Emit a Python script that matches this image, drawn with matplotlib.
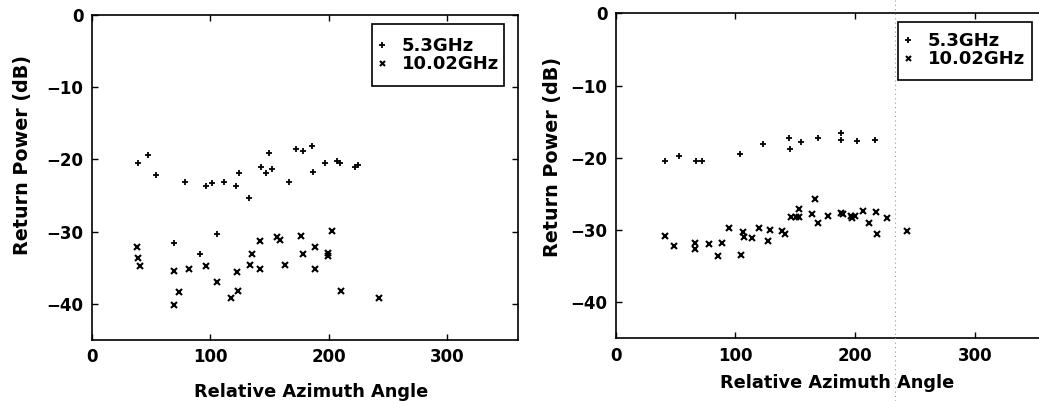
import matplotlib
matplotlib.use("Agg")
import matplotlib.pyplot as plt
from matplotlib.lines import Line2D
from matplotlib.patches import Rectangle

# left panel data
left_53_angle = [39.2, 47.6, 54.6, 78.4, 96.6, 101.6, 111.4, 121.8, 124.6, 133.0,
                 142.8, 147.0, 149.8, 152.6, 166.6, 172.2, 178.7, 185.7, 187.1, 196.9,
                 206.7, 210.0, 222.7, 224.9, 69.2, 91.6, 105.9]
left_53_power = [-20.5, -19.35, -22.2, -23.1, -23.7, -23.3, -23.1, -23.7, -21.9, -25.35,
                 -21.1, -21.9, -19.1, -21.3, -23.1, -18.6, -18.8, -18.2, -21.7, -20.5,
                 -20.2, -20.5, -21.1, -20.8, -31.6, -33.1, -30.3]
left_10_angle = [38.6, 39.2, 40.6, 69.2, 81.8, 96.9, 105.6, 122.7, 133.6, 135.2,
                 142.3, 142.3, 156.8, 159.1, 163.3, 176.4, 178.4, 188.2, 188.2, 199.9,
                 199.9, 203.3, 69.2, 73.6, 117.6, 123.5, 210.6, 242.3]
left_10_power = [-32.1, -33.7, -34.8, -35.4, -35.2, -34.7, -37.0, -35.6, -34.6, -33.1,
                 -31.3, -35.2, -30.8, -31.2, -34.6, -30.6, -33.1, -32.1, -35.2, -33.0,
                 -33.4, -29.9, -40.1, -38.4, -39.2, -38.2, -38.2, -39.2]

# right panel data
right_53_angle = [41.2, 52.9, 67.1, 71.8, 103.8, 122.8, 145.0, 145.6, 154.8, 169.3,
                  188.0, 188.2, 201.6, 216.6]
right_53_power = [-20.4, -19.8, -20.4, -20.4, -19.5, -18.1, -17.3, -18.8, -17.8, -17.2,
                  -16.6, -17.6, -17.7, -17.5]
right_10_angle = [41.2, 49.0, 66.3, 66.3, 78.2, 85.7, 88.6, 94.9, 104.4, 106.6,
                  107.4, 113.6, 120.0, 127.5, 128.9, 139.2, 141.4, 146.2, 150.6, 153.1,
                  153.0, 163.7, 166.5, 168.8, 177.6, 188.2, 189.6, 196.3, 197.7, 200.0,
                  206.9, 211.6, 217.2, 218.6, 226.9, 243.3]
right_10_power = [-30.8, -32.2, -31.8, -32.6, -31.9, -33.6, -31.8, -29.7, -33.4, -30.3,
                  -31.0, -31.1, -29.7, -31.5, -30.0, -30.1, -30.5, -28.2, -28.2, -28.2,
                  -27.1, -27.8, -25.7, -29.0, -28.1, -27.7, -27.8, -28.0, -28.4, -28.1,
                  -27.4, -29.1, -27.5, -30.5, -28.35, -30.2]

plt.rcParams['font.family'] = 'DejaVu Sans'
plt.rcParams['font.weight'] = 'bold'

fig = plt.figure(figsize=(10.39, 4.01), dpi=100)
ax1 = fig.add_axes([0.0883, 0.152, 0.4103, 0.8105])
ax2 = fig.add_axes([0.5926, 0.1564, 0.4147, 0.8104])

# (axes, data..., legend anchor, legend box, xlabel y, ylabel x, ylabel y)
panels = [
    (ax1, left_53_angle, left_53_power, left_10_angle, left_10_power,
     (0.6646, 0.932), (0.657, 0.781, 0.309, 0.19), -0.132, -0.14, 0.569),
    (ax2, right_53_angle, right_53_power, right_10_angle, right_10_power,
     (0.662, 0.942), (0.656, 0.795, 0.3096, 0.179), -0.11, -0.125, 0.559),
]

for ax, a53, p53, a10, p10, anchor, box, xly, ylx, yly in panels:
    ax.plot(a53, p53, '+', color='k', ms=5, mew=1.3, label='5.3GHz')
    ax.plot(a10, p10, 'x', color='k', ms=4.5, mew=1.5, label='10.02GHz')
    ax.set_xlim(0, 360)
    ax.set_ylim(-45, 0)
    ax.set_xticks([0, 100, 200, 300])
    ax.set_yticks([0, -10, -20, -30, -40])
    ax.tick_params(direction='in', top=True, right=True, length=4, width=1,
                   labelsize=12, pad=6)
    for s in ax.spines.values():
        s.set_linewidth(1.2)
    ax.set_xlabel('Relative Azimuth Angle', fontsize=12.8, fontweight='bold')
    ax.set_ylabel('Return Power (dB)', fontsize=13.8, fontweight='bold')
    ax.xaxis.set_label_coords(0.515, xly)
    ax.yaxis.set_label_coords(ylx, yly)
    ax.legend(loc='upper left', bbox_to_anchor=anchor, fontsize=13,
              frameon=False, handlelength=0.8, handletextpad=0.68,
              borderpad=0, borderaxespad=0, labelspacing=0, markerscale=0.8)
    ax.add_patch(Rectangle(box[:2], box[2], box[3], transform=ax.transAxes,
                           fill=False, edgecolor='k', lw=1.2, clip_on=False))

# faint dotted scan line in the right panel
fig.add_artist(Line2D([895 / 1039, 895 / 1039], [0, 1], color='0.6', lw=0.8,
                      ls=(0, (1, 3)), transform=fig.transFigure))

fig.savefig('out.png', dpi=100)
